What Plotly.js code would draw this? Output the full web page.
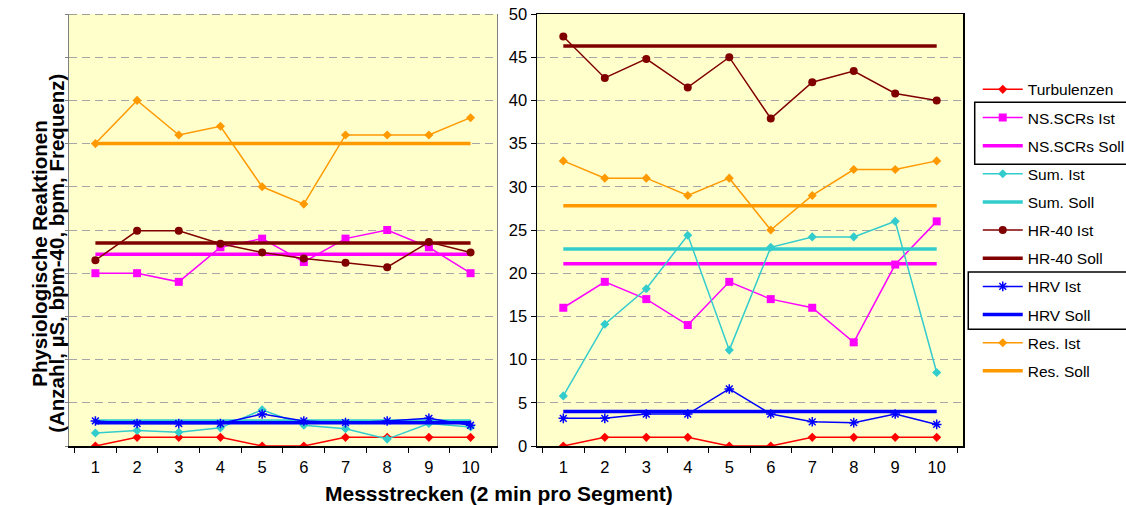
<!DOCTYPE html>
<html>
<head>
<meta charset="utf-8">
<script src="https://cdn.plot.ly/plotly-3.0.1.min.js"></script>
<style>html,body{margin:0;padding:0;background:#fff;}#chart{width:1126px;height:505px;}</style>
</head>
<body>
<div id="chart"></div>
<script>
// ---- data ----
const categories = ['1','2','3','4','5','6','7','8','9','10'];
const seriesNames = ['Turbulenzen','NS.SCRs Ist','NS.SCRs Soll','Sum. Ist','Sum. Soll','HR-40 Ist','HR-40 Soll','HRV Ist','HRV Soll','Res. Ist','Res. Soll'];

// left panel
const turbLeft   = [0, 1, 1, 1, 0, 0, 1, 1, 1, 1];
const nsIstLeft  = [20, 20, 19, 23, 24, 21.3, 24, 25, 23, 20];
const nsSollLeft = 22.2;
const sumIstLeft = [1.5, 1.8, 1.6, 2.1, 4.2, 2.4, 2.0, 0.8, 2.6, 2.2];
const sumSollLeft = 2.9;
const hrIstLeft  = [21.5, 24.9, 24.9, 23.4, 22.4, 21.7, 21.2, 20.7, 23.6, 22.4];
const hrSollLeft = 23.5;
const hrvIstLeft = [2.9, 2.6, 2.6, 2.6, 3.7, 2.9, 2.7, 2.9, 3.2, 2.4];
const hrvSollLeft = 2.7;
const resIstLeft = [35, 40, 36, 37, 30, 28, 36, 36, 36, 38];
const resSollLeft = 35;

// right panel
const turbRight   = [0, 1, 1, 1, 0, 0, 1, 1, 1, 1];
const nsIstRight  = [16, 19, 17, 14, 19, 17, 16, 12, 21, 26];
const nsSollRight = 21.1;
const sumIstRight = [5.8, 14.1, 18.2, 24.4, 11.1, 23.0, 24.2, 24.2, 26.0, 8.5];
const sumSollRight = 22.8;
const hrIstRight  = [47.4, 42.6, 44.8, 41.5, 45.0, 37.9, 42.1, 43.4, 40.8, 40.0];
const hrSollRight = 46.3;
const hrvIstRight = [3.2, 3.2, 3.7, 3.7, 6.6, 3.7, 2.8, 2.7, 3.7, 2.5];
const hrvSollRight = 4.0;
const resIstRight = [33, 31, 31, 29, 31, 25, 29, 32, 32, 33];
const resSollRight = 27.8;

const yTicks = [0,5,10,15,20,25,30,35,40,45,50];
const yMax = 50;

// ---- styles ----
const COL = {turb:'#FF0000', ns:'#FF00FF', sum:'#33CCCC', hr:'#800000', hrv:'#0000FF', res:'#FF9900'};
const FONT = 'Liberation Sans, Arial, sans-serif';

function ist(name, y, color, symbol, size, xa, ya, show) {
  const m = {symbol: symbol, size: size, color: color};
  if (symbol === 'asterisk-open') m.line = {color: color, width: 1.5};
  return {type:'scatter', mode:'lines+markers', name:name, legendgroup:name, showlegend:show,
    x: categories, y: y, xaxis: xa, yaxis: ya,
    line:{color:color, width:1.5}, marker:m, hoverinfo:'skip'};
}
function soll(name, v, color, xa, ya, show) {
  return {type:'scatter', mode:'lines', name:name, legendgroup:name, showlegend:show,
    x:[categories[0], categories[categories.length-1]], y:[v, v], xaxis:xa, yaxis:ya,
    line:{color:color, width:3.5}, hoverinfo:'skip'};
}
function panel(d, xa, ya, show) {
  return [
    ist(seriesNames[0], d.turb, COL.turb, 'diamond', 7, xa, ya, show),
    ist(seriesNames[1], d.nsIst, COL.ns, 'square', 8, xa, ya, show),
    soll(seriesNames[2], d.nsSoll, COL.ns, xa, ya, show),
    ist(seriesNames[3], d.sumIst, COL.sum, 'diamond', 7, xa, ya, show),
    soll(seriesNames[4], d.sumSoll, COL.sum, xa, ya, show),
    ist(seriesNames[5], d.hrIst, COL.hr, 'circle', 8, xa, ya, show),
    soll(seriesNames[6], d.hrSoll, COL.hr, xa, ya, show),
    ist(seriesNames[7], d.hrvIst, COL.hrv, 'asterisk-open', 8, xa, ya, show),
    soll(seriesNames[8], d.hrvSoll, COL.hrv, xa, ya, show),
    ist(seriesNames[9], d.resIst, COL.res, 'diamond', 7, xa, ya, show),
    soll(seriesNames[10], d.resSoll, COL.res, xa, ya, show)
  ];
}

const traces = [].concat(
  panel({turb:turbLeft, nsIst:nsIstLeft, nsSoll:nsSollLeft, sumIst:sumIstLeft, sumSoll:sumSollLeft,
         hrIst:hrIstLeft, hrSoll:hrSollLeft, hrvIst:hrvIstLeft, hrvSoll:hrvSollLeft,
         resIst:resIstLeft, resSoll:resSollLeft}, 'x', 'y', true),
  panel({turb:turbRight, nsIst:nsIstRight, nsSoll:nsSollRight, sumIst:sumIstRight, sumSoll:sumSollRight,
         hrIst:hrIstRight, hrSoll:hrSollRight, hrvIst:hrvIstRight, hrvSoll:hrvSollRight,
         resIst:resIstRight, resSoll:resSollRight}, 'x2', 'y2', false)
);

const xCommon = {type:'category', categoryorder:'array', categoryarray:categories,
  tickson:'boundaries', ticks:'outside', ticklen:5, tickcolor:'#000', tickwidth:1,
  showline:true, linecolor:'#000', linewidth:1.5, showgrid:false, zeroline:false, ticklabelstandoff:6,
  tickfont:{family:FONT, size:16.5, color:'#000'}, fixedrange:true};
const yCommon = {range:[0,yMax], tickvals:yTicks, showgrid:true, gridcolor:'#A6A6A6', griddash:'8px,5px',
  gridwidth:1, zeroline:false, fixedrange:true, tickfont:{family:FONT, size:16.5, color:'#000'}};

const layout = {
  width:1126, height:505,
  margin:{l:69, r:163, t:14, b:59, autoexpand:false},
  paper_bgcolor:'#FFFFFF', plot_bgcolor:'#FFFFCC',
  font:{family:FONT, color:'#000'},
  xaxis: Object.assign({}, xCommon, {domain:[0, 0.4787], anchor:'y'}),
  yaxis: Object.assign({}, yCommon, {domain:[0,1], anchor:'x', showticklabels:false,
    ticks:'outside', ticklen:3, tickcolor:'#808080', showline:true, linecolor:'#808080', linewidth:1.5, mirror:true}),
  xaxis2: Object.assign({}, xCommon, {domain:[0.5235, 1], anchor:'y2', mirror:true}),
  yaxis2: Object.assign({}, yCommon, {domain:[0,1], anchor:'x2', showticklabels:true,
    ticks:'outside', ticklen:5, tickcolor:'#000', showline:true, linecolor:'#000', linewidth:1.5, mirror:true}),
  showlegend:true,
  legend:{x:1.0165, xanchor:'left', y:0.864, yanchor:'top', bgcolor:'rgba(0,0,0,0)',
    font:{family:FONT, size:15.5, color:'#000'}, tracegroupgap:5, itemwidth:40, traceorder:'grouped'},
  shapes:[
    {type:'line', xref:'x domain', yref:'y', x0:0, x1:1, y0:yMax, y1:yMax, line:{color:'#808080', width:1.5, dash:'8px,5px'}},
    {type:'rect', xref:'paper', yref:'paper', x0:1.0131, x1:1.19, y0:0.652, y1:0.7956, line:{color:'#000', width:1.5}},
    {type:'rect', xref:'paper', yref:'paper', x0:1.0059, x1:1.19, y0:0.270, y1:0.4028, line:{color:'#000', width:1.5}}
  ],
  annotations:[
    {text:'<b>Messstrecken (2 min pro Segment)</b>', xref:'paper', yref:'paper', x:0.4807, y:-0.109,
      xanchor:'center', yanchor:'middle', showarrow:false, font:{family:FONT, size:21, color:'#000'}},
    {text:'<b>Physiologische Reaktionen</b>', xref:'paper', yref:'paper', x:-0.0324, y:0.445, textangle:-90,
      xanchor:'center', yanchor:'middle', showarrow:false, font:{family:FONT, size:20.5, color:'#000'}},
    {text:'<b>(Anzahl, µS, bpm-40, bpm, Frequenz)</b>', xref:'paper', yref:'paper', x:-0.0134, y:0.445, textangle:-90,
      xanchor:'center', yanchor:'middle', showarrow:false, font:{family:FONT, size:20.5, color:'#000'}}
  ]
};

Plotly.newPlot('chart', traces, layout, {displayModeBar:false, staticPlot:true});
</script>
</body>
</html>
